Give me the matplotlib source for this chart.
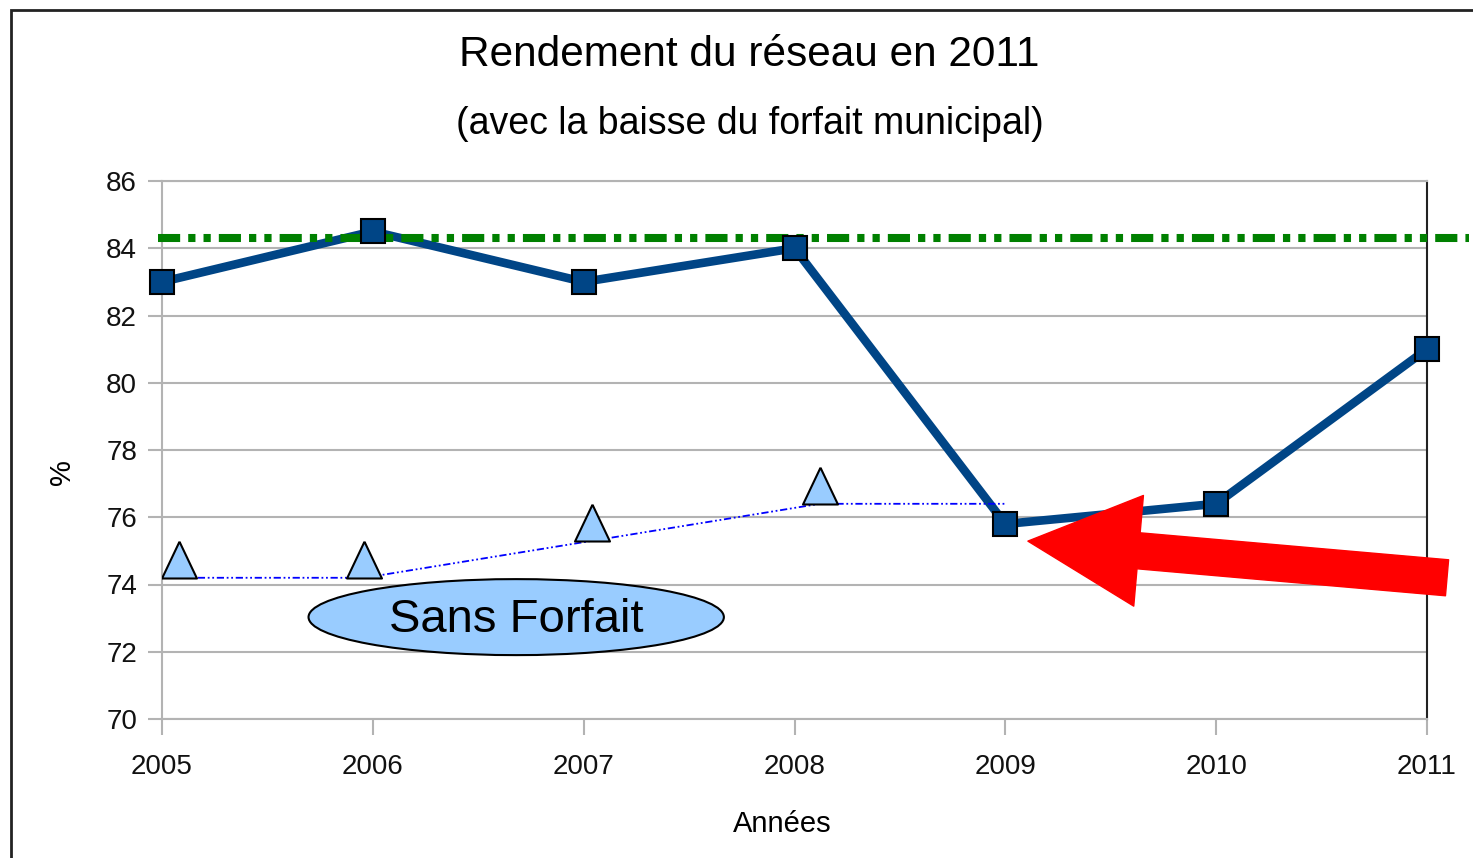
import numpy as np
import matplotlib
matplotlib.use('Agg')
import matplotlib.pyplot as plt
from matplotlib.patches import Ellipse, Rectangle, FancyArrowPatch

plt.rcParams['font.family'] = ['Liberation Sans', 'DejaVu Sans']

# data
years = [2005, 2006, 2007, 2008, 2009, 2010, 2011]
rendement = [83.0, 84.5, 83.0, 84.0, 75.8, 76.4, 81.0]
objectif = 84.3
# "sans forfait" series (triangles sit a bit off the year ticks)
sans_forfait_x = [2005.08, 2005.96, 2007.04, 2008.12, 2009.0]
sans_forfait = [74.2, 74.2, 75.3, 76.4, 76.4]
yticks = [70, 72, 74, 76, 78, 80, 82, 84, 86]

fig = plt.figure(figsize=(14.73, 8.58), dpi=100)
ax = fig.add_axes([162/1473, 1-719/858, (1427-162)/1473, (719-181)/858])

grey = '#b3b3b3'
ax.set_xlim(2005, 2011)
ax.set_ylim(70, 86)
ax.set_xticks(years)
ax.set_yticks(yticks)
ax.grid(axis='y', color=grey, lw=1.5, zorder=0)
for s in ['left', 'top', 'bottom']:
    ax.spines[s].set_color(grey)
    ax.spines[s].set_linewidth(1.5)
ax.spines['right'].set_color('#222222')
ax.spines['right'].set_linewidth(1.5)
ax.tick_params(axis='both', colors=grey, width=1.5, labelcolor='#111111',
               labelsize=20)
ax.tick_params(axis='y', length=10, pad=8)
ax.tick_params(axis='x', length=11.5, pad=14)

# main series
ax.plot(years, rendement, color='#004586', lw=6.2, zorder=3,
        solid_joinstyle='miter')
ax.axhline(objectif, xmin=-0.003, xmax=1.033, color='#008000', lw=5.8,
           ls=(0, (2.75, 1, 0.9, 1, 0.9, 1)), clip_on=False, zorder=4)
ax.plot(years, rendement, ls='none', marker='s', ms=17.5, mfc='#004586',
        mec='black', mew=1.5, zorder=5, clip_on=False)

# sans forfait
ax.plot(sans_forfait_x, sans_forfait, color='#0000ff', lw=1.3,
        ls=(0, (4, 1.5, 1, 1.5, 1, 1.5)), zorder=3)
tri = [(0, 2), (-0.95, 0), (0.95, 0), (0, 2)]
ax.plot(sans_forfait_x[:4], sans_forfait[:4], ls='none', marker=tri, ms=53,
        mfc='#99ccff', mec='black', mew=1.5, zorder=4)

ell = Ellipse((2006.68, 73.03), 1.97, 2.26, facecolor='#99ccff',
              edgecolor='black', lw=1.5, zorder=6)
ax.add_patch(ell)
ax.text(2006.68, 72.93, 'Sans Forfait', fontsize=34, ha='center',
        va='center', zorder=7)

# red arrow
arr = FancyArrowPatch((2011.095, 74.2), (2009.107, 75.29),
                      arrowstyle='simple,head_length=80,head_width=80,tail_width=26',
                      mutation_scale=1, color='#ff0000', shrinkA=0, shrinkB=0,
                      clip_on=False, zorder=8)
ax.add_patch(arr)

# labels
fig.text(749/1473, 1-55/858, 'Rendement du réseau en 2011', fontsize=30.5,
         ha='center', va='center')
fig.text(750/1473, 1-124/858, '(avec la baisse du forfait municipal)',
         fontsize=27, ha='center', va='center')
fig.text(782/1473, 1-824/858, 'Années', fontsize=21, ha='center', va='center')
fig.text(62/1473, 1-472/858, '%', fontsize=21, rotation=90, ha='center',
         va='center')

# outer frame
fig.patches.append(Rectangle((11/1473, -0.05), (1488-11)/1473, 1.05-10/858,
                             transform=fig.transFigure, fill=False,
                             edgecolor='#222222', lw=2, clip_on=False))

fig.savefig('out.png', dpi=100)
